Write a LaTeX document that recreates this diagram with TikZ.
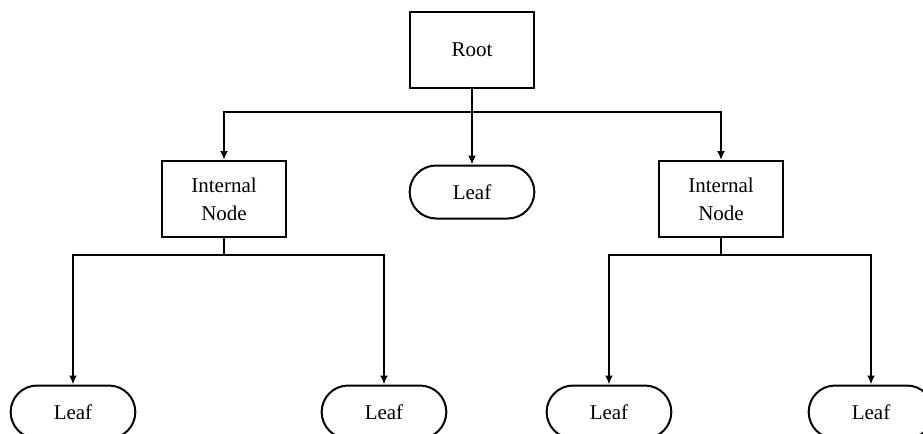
\documentclass[tikz,border=0pt]{standalone}
\usepackage{fontspec}
\setmainfont{Liberation Serif}
\usetikzlibrary{shapes.misc,arrows.meta}

\begin{document}
\begin{tikzpicture}[x=0.5pt, y=-0.5pt,
    box/.style={draw, line width=1pt, minimum width=62pt, minimum height=38pt, align=center, font=\fontsize{10.5}{14}\selectfont},
    leaf/.style={draw, line width=1pt, rounded rectangle, minimum width=69pt, minimum height=26.5pt, font=\fontsize{10.5}{14}\selectfont},
    arr/.style={line width=1pt, -{Latex[length=4.5pt, width=4pt]}}]
    % Page frame
    \useasboundingbox (0,0) rectangle (923,434);

    % Root and first level
    \node[box] (root) at (472,50) {Root};
    \node[box] (intL) at (224,199) {Internal\\Node};
    \node[leaf] (leafM) at (472,192) {Leaf};
    \node[box] (intR) at (721,199) {Internal\\Node};

    % Bottom leaves
    \node[leaf] (leafA) at (73,412) {Leaf};
    \node[leaf] (leafB) at (384,412) {Leaf};
    \node[leaf] (leafC) at (609,412) {Leaf};
    \node[leaf] (leafD) at (871,412) {Leaf};

    % Bus points
    \coordinate (busT) at (472,112);
    \coordinate (busL) at (224,255);
    \coordinate (busR) at (721,255);

    % Connectors from root
    \draw[line width=1pt] (root.south) -- (busT);
    \draw[arr] (busT) -| (intL.north);
    \draw[arr] (busT) -- (leafM.north);
    \draw[arr] (busT) -| (intR.north);

    % Connectors from internal nodes
    \draw[line width=1pt] (intL.south) -- (busL);
    \draw[arr] (busL) -| (leafA.north);
    \draw[arr] (busL) -| (leafB.north);
    \draw[line width=1pt] (intR.south) -- (busR);
    \draw[arr] (busR) -| (leafC.north);
    \draw[arr] (busR) -| (leafD.north);
\end{tikzpicture}
\end{document}
